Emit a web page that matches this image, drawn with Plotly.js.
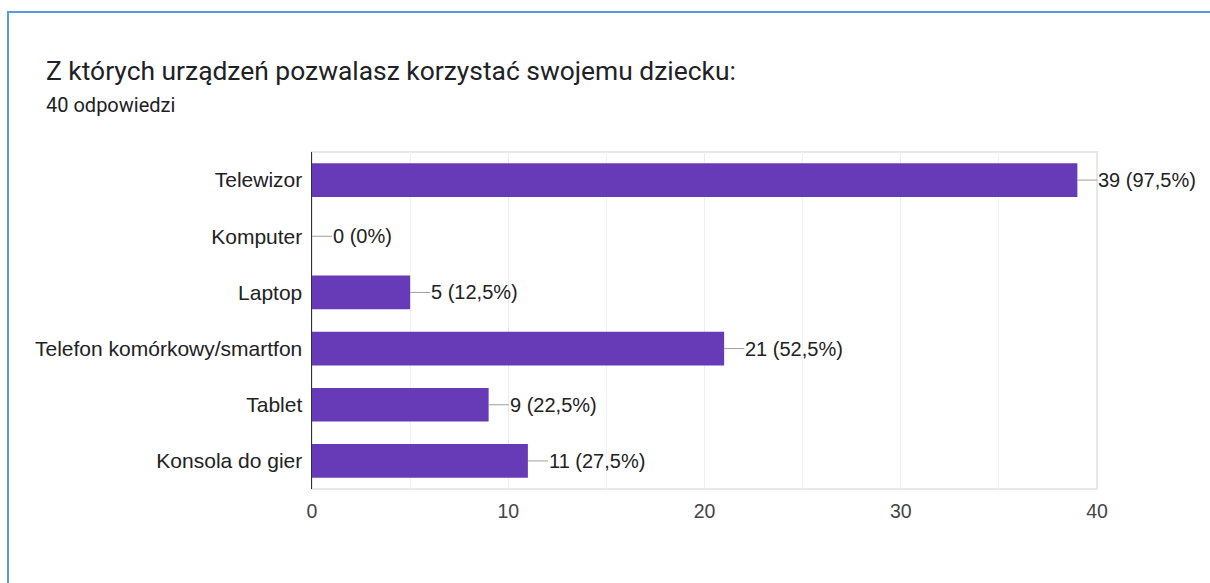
<!DOCTYPE html>
<html><head><meta charset="utf-8">
<script src="https://cdn.plot.ly/plotly-3.0.1.min.js"></script>
<style>
html,body{margin:0;padding:0;background:#fff;}
#chart{width:1210px;height:583px;position:absolute;left:0;top:0;}
#card{position:absolute;left:7px;top:11px;width:1210px;height:600px;border-left:2px solid #5b9bd5;border-top:2px solid #5b9bd5;pointer-events:none;}
</style></head>
<body>
<div id="chart"></div>
<div id="card"></div>
<script>
const categories = ["Telewizor","Komputer","Laptop","Telefon komórkowy/smartfon","Tablet","Konsola do gier"];
const counts = [39, 0, 5, 21, 9, 11];
const percents = ["97,5%","0%","12,5%","52,5%","22,5%","27,5%"];
const tickVals = [0, 10, 20, 30, 40];
const titleText = "Z których urządzeń pozwalasz korzystać swojemu dziecku:";
const subtitleText = "40 odpowiedzi";

const trace = {
  type: 'bar', orientation: 'h',
  x: counts, y: categories,
  marker: {color: '#673ab7', line: {width: 0}},
  width: 0.6,
  hoverinfo: 'none'
};

const valueFont = {family: 'Liberation Sans, Arial, sans-serif', size: 20, color: '#222'};
const catFont = {family: 'Liberation Sans, Arial, sans-serif', size: 21, color: '#222'};

const annotations = categories.map((c, i) => ({
  x: counts[i], y: c, xref: 'x', yref: 'y',
  text: counts[i] + ' (' + percents[i] + ')',
  showarrow: true, arrowhead: 0, arrowwidth: 1, arrowcolor: '#9e9e9e',
  ax: 20, ay: 0, standoff: 0, startstandoff: 0,
  xanchor: 'left', borderpad: 0,
  font: valueFont
}));
annotations.push({
  xref: 'paper', yref: 'paper', x: -(312 - 44) / 785, y: 1.0, xanchor: 'left', yanchor: 'middle',
  yshift: 47, showarrow: false, text: subtitleText,
  font: {family: 'Roboto, sans-serif', size: 20, color: '#202124'}
});

const layout = {
  width: 1210, height: 583,
  margin: {l: 312, r: 113, t: 152, b: 94, pad: 0},
  paper_bgcolor: '#fff', plot_bgcolor: '#fff',
  showlegend: false,
  title: {text: titleText, x: 46/1210, xanchor: 'left', y: 1 - 71/583, yanchor: 'middle', yref: 'container',
          font: {family: 'Roboto, sans-serif', size: 26.4, color: '#202124'}},
  xaxis: {
    range: [0, 40], tickvals: tickVals, ticktext: tickVals.map(String),
    showgrid: true, gridcolor: '#ededed', gridwidth: 1,
    minor: {dtick: 5, showgrid: true, gridcolor: '#f2f2f2', gridwidth: 1},
    zeroline: false, showline: false, ticks: '',
    tickfont: {family: 'Liberation Sans, Arial, sans-serif', size: 19.5, color: '#444'},
    ticklabelstandoff: 8, fixedrange: true
  },
  yaxis: {
    categoryorder: 'array', categoryarray: categories, autorange: 'reversed',
    showgrid: false, zeroline: false, showline: true, linecolor: '#333', linewidth: 1.5,
    ticks: '', ticklabelstandoff: 4,
    tickfont: catFont,
    fixedrange: true
  },
  shapes: [{type: 'rect', xref: 'paper', yref: 'paper', x0: 0, x1: 1, y0: 0, y1: 1,
            line: {color: '#e8e8e8', width: 2}, layer: 'below'}],
  annotations: annotations
};

Plotly.newPlot('chart', [trace], layout, {displayModeBar: false, staticPlot: true});
</script>
</body></html>
